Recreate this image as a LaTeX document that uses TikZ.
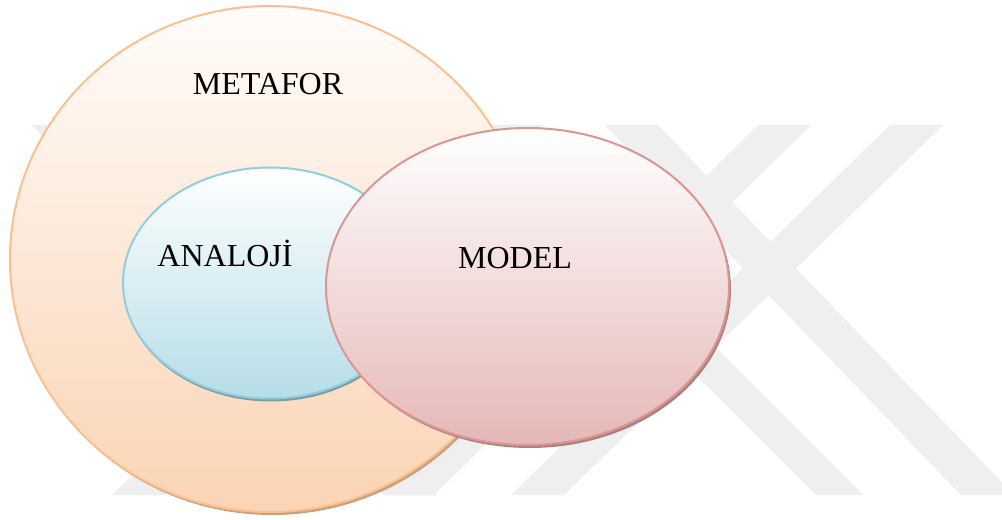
\documentclass[tikz,border=0pt]{standalone}
\usepackage{fontspec}
\setmainfont{Liberation Serif}
\usetikzlibrary{shapes.geometric}
\definecolor{wm}{RGB}{239,239,239}
\definecolor{metTop}{RGB}{255,252,250}
\definecolor{metBot}{RGB}{250,212,180}
\definecolor{metLine}{RGB}{250,192,144}
\definecolor{metSh}{RGB}{205,160,125}
\definecolor{anaTop}{RGB}{255,255,255}
\definecolor{anaBot}{RGB}{182,221,232}
\definecolor{anaLine}{RGB}{146,205,220}
\definecolor{anaSh}{RGB}{128,155,165}
\definecolor{modTop}{RGB}{255,255,255}
\definecolor{modBot}{RGB}{229,184,183}
\definecolor{modLine}{RGB}{217,150,148}
\definecolor{modSh}{RGB}{175,128,128}
\begin{document}
\begin{tikzpicture}[x=0.75pt,y=-0.75pt,
  blob/.style={ellipse, inner sep=0pt, outer sep=0pt, line width=1.5pt},
  shadowblob/.style={ellipse, inner sep=0pt, outer sep=0pt, draw=none},
  lbl/.style={font=\fontsize{24}{28}\selectfont, inner sep=0pt, anchor=base},
  wmband/.style={fill=wm, draw=none}]
\useasboundingbox (0,0) rectangle (1002,520);
\fill[white] (0,0) rectangle (1002,520);
% watermark bands
\fill[wmband] (32,125) -- (85,125) -- (437,495) -- (384,495) -- cycle;
\fill[wmband] (112,495) -- (165,495) -- (544,125) -- (490,125) -- cycle;
\fill[wmband] (384,495) -- (434,495) -- (811,125) -- (758,125) -- cycle;
\fill[wmband] (446,125) -- (493,125) -- (863,495) -- (816,495) -- cycle;
\fill[wmband] (511,495) -- (564,495) -- (943,125) -- (890,125) -- cycle;
\fill[wmband] (605,125) -- (658,125) -- (1014,495) -- (961,495) -- cycle;
% METAFOR
\node[shadowblob, fill=metSh, minimum width=390pt, minimum height=379.5pt] (metsh) at (272,262) {};
\node[blob, draw=metLine, top color=metTop, bottom color=metBot, minimum width=390pt, minimum height=379.5pt] (metafor) at (270,259) {};
% ANALOJI
\node[shadowblob, fill=anaSh, minimum width=220.5pt, minimum height=173.25pt] (anash) at (271,286) {};
\node[blob, draw=anaLine, top color=anaTop, bottom color=anaBot, minimum width=220.5pt, minimum height=173.25pt] (analoji) at (270,283) {};
% MODEL
\node[shadowblob, fill=modSh, minimum width=302.25pt, minimum height=237.75pt] (modsh) at (529.5,289.5) {};
\node[blob, draw=modLine, top color=modTop, bottom color=modBot, minimum width=302.25pt, minimum height=237.75pt] (model) at (527.5,286.5) {};
% labels
\node[lbl] (tmet) at (268,95) {METAFOR};
\node[lbl] (tana) at (225,267) {ANALOJİ};
\node[lbl] (tmod) at (515,268) {MODEL};
\end{tikzpicture}
\end{document}
